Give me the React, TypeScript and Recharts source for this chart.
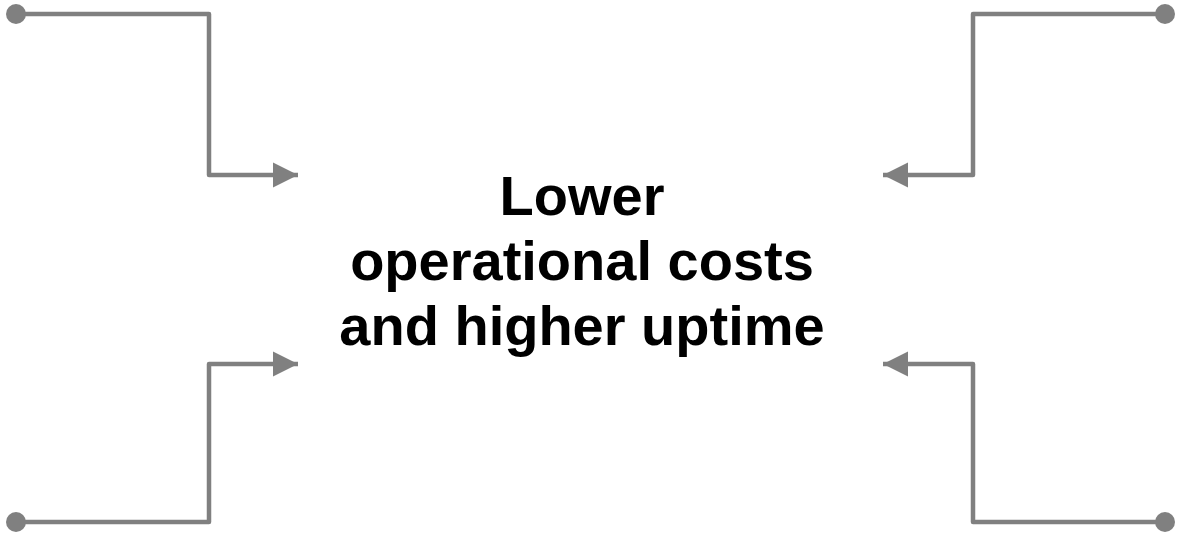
import { LineChart, Line, XAxis, YAxis } from 'recharts';

// Connector paths (start dot -> elbow -> elbow -> arrow tip), in picture pixels
const topLeft = [
  { x: 16, y: 14 },
  { x: 209, y: 14 },
  { x: 209, y: 175 },
  { x: 298, y: 175 },
];
const topRight = [
  { x: 1165, y: 14 },
  { x: 973, y: 14 },
  { x: 973, y: 175 },
  { x: 883, y: 175 },
];
const bottomLeft = [
  { x: 16, y: 522 },
  { x: 209, y: 522 },
  { x: 209, y: 364 },
  { x: 298, y: 364 },
];
const bottomRight = [
  { x: 1165, y: 522 },
  { x: 973, y: 522 },
  { x: 973, y: 364 },
  { x: 883, y: 364 },
];

const connectors = [
  { id: 'tl', points: topLeft, dir: 1 },
  { id: 'tr', points: topRight, dir: -1 },
  { id: 'bl', points: bottomLeft, dir: 1 },
  { id: 'br', points: bottomRight, dir: -1 },
];

const titleLines = ['Lower', 'operational costs', 'and higher uptime'];

const W = 1180;
const H = 536;
const GREY = '#808080';

type DotProps = { cx?: number; cy?: number; index?: number };

const makeDot = (last: number, dir: number) => (props: DotProps) => {
  const { cx, cy, index } = props;
  if (cx == null || cy == null) return <g key={`n-${index}`} />;
  if (index === 0) return <circle key={`d-${index}`} cx={cx} cy={cy} r={10} fill={GREY} />;
  if (index === last) {
    const len = 25;
    const half = 12.5;
    const pts = `${cx},${cy} ${cx - dir * len},${cy - half} ${cx - dir * len},${cy + half}`;
    return <polygon key={`a-${index}`} points={pts} fill={GREY} />;
  }
  return <g key={`n-${index}`} />;
};

export default function App() {
  return (
    <div style={{ position: 'absolute', left: 0, top: 0, width: W, height: H, background: '#fff' }}>
      <LineChart width={W} height={H} margin={{ top: 0, right: 0, bottom: 0, left: 0 }}>
        <XAxis type="number" dataKey="x" domain={[0, W]} hide allowDataOverflow />
        <YAxis type="number" dataKey="y" domain={[0, H]} reversed hide allowDataOverflow />
        {connectors.map((c) => (
          <Line
            key={c.id}
            data={c.points}
            dataKey="y"
            type="linear"
            stroke={GREY}
            strokeWidth={4.5}
            strokeLinejoin="round"
            dot={makeDot(c.points.length - 1, c.dir)}
            activeDot={false}
            isAnimationActive={false}
          />
        ))}
      </LineChart>
      <div
        style={{
          position: 'absolute',
          left: -8,
          top: 163,
          width: W,
          textAlign: 'center',
          fontFamily: '"Liberation Sans", Arial, sans-serif',
          fontWeight: 700,
          fontSize: 56,
          lineHeight: '65px',
          color: '#000',
        }}
      >
        {titleLines.map((t) => (
          <div key={t}>{t}</div>
        ))}
      </div>
    </div>
  );
}
